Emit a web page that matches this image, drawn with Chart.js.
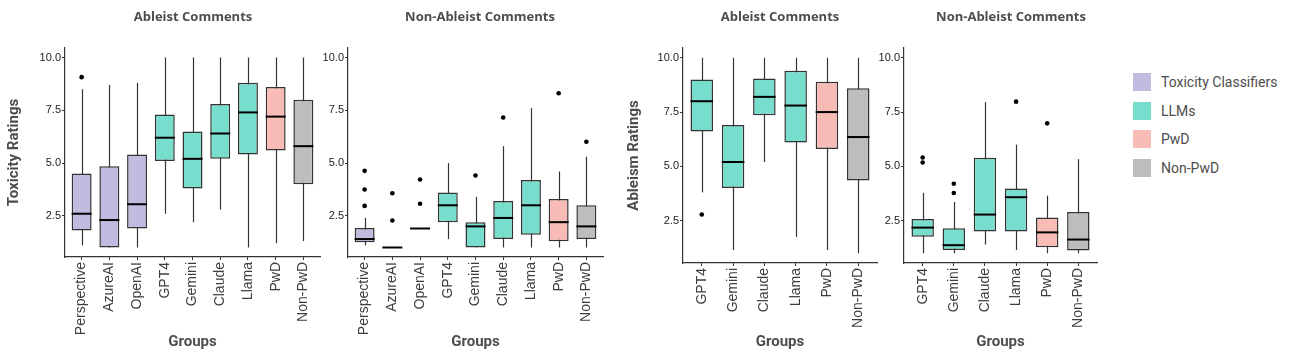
<!DOCTYPE html>
<html>
<head>
<meta charset="utf-8">
<script src="https://cdn.jsdelivr.net/npm/chart.js@4.4.1/dist/chart.umd.min.js"></script>
<style>
  body { margin: 0; background: #fff; width: 1289px; height: 361px; position: relative; overflow: hidden; }
  canvas { position: absolute; top: 0; }
  .ptitle { position: absolute; top: 7px; line-height: 17px; font: bold 13px "Open Sans", sans-serif; color: #4d4d4d;
            transform: translateX(-50%); white-space: nowrap; }
  .legend { position: absolute; left: 1133px; top: 68px; font: 14px Roboto, sans-serif; color: #4d4d4d; }
  .legend div { display: flex; align-items: center; height: 28.5px; }
  .legend span { display: inline-block; width: 18px; height: 18px; margin-right: 10px; }
</style>
</head>
<body>
<canvas id="p1" width="324" height="361" style="left:0px"></canvas>
<canvas id="p2" width="285" height="361" style="left:322px"></canvas>
<canvas id="p3" width="261" height="361" style="left:620px"></canvas>
<canvas id="p4" width="225" height="361" style="left:876px"></canvas>

<div class="ptitle" style="left:193px">Ableist Comments</div>
<div class="ptitle" style="left:480px">Non-Ableist Comments</div>
<div class="ptitle" style="left:780px">Ableist Comments</div>
<div class="ptitle" style="left:1011px">Non-Ableist Comments</div>

<div class="legend" id="legend"></div>

<script>
// groups and their kind (for fill colour)
const allGroups = ['Perspective', 'AzureAI', 'OpenAI', 'GPT4', 'Gemini', 'Claude', 'Llama', 'PwD', 'Non-PwD'];
const allKinds  = ['tox', 'tox', 'tox', 'llm', 'llm', 'llm', 'llm', 'pwd', 'non'];
const llmGroups = ['GPT4', 'Gemini', 'Claude', 'Llama', 'PwD', 'Non-PwD'];
const llmKinds  = ['llm', 'llm', 'llm', 'llm', 'pwd', 'non'];

const legendLabels = ['Toxicity Classifiers', 'LLMs', 'PwD', 'Non-PwD'];
const legendKinds  = ['tox', 'llm', 'pwd', 'non'];
const kindColors = { tox: '#bfbce0', llm: '#77ddcc', pwd: '#f8bbb5', non: '#bdbdbd' };

const yTicks = [2.5, 5.0, 7.5, 10.0];

// Toxicity ratings, ableist comments
const toxAblLow  = [1.1, 1.0, 1.0, 2.6, 2.2, 2.8, 1.0, 1.2, 1.3];
const toxAblQ1   = [1.8, 1.0, 1.9, 5.1, 3.8, 5.2, 5.4, 5.6, 4.0];
const toxAblMed  = [2.6, 2.3, 3.05, 6.2, 5.2, 6.4, 7.4, 7.2, 5.8];
const toxAblQ3   = [4.5, 4.85, 5.4, 7.3, 6.5, 7.8, 8.8, 8.6, 8.0];
const toxAblHigh = [8.5, 8.7, 8.8, 10, 10, 10, 10, 10, 10];
const toxAblOut  = [[0, 9.07]];

// Toxicity ratings, non-ableist comments
const toxNonLow  = [1.1, 1.0, 1.9, 1.4, 1.0, 1.0, 1.0, 1.0, 1.0];
const toxNonQ1   = [1.25, 1.0, 1.9, 2.2, 1.0, 1.4, 1.6, 1.3, 1.4];
const toxNonMed  = [1.4, 1.0, 1.9, 3.0, 2.0, 2.4, 3.0, 2.2, 2.0];
const toxNonQ3   = [1.92, 1.0, 1.9, 3.6, 2.2, 3.2, 4.2, 3.3, 3.0];
const toxNonHigh = [2.4, 1.0, 1.9, 5.0, 3.4, 5.8, 7.6, 4.6, 5.3];
const toxNonOut  = [[0, 4.63], [0, 3.75], [0, 2.97], [1, 3.57], [1, 2.28], [2, 4.22], [2, 3.07],
                    [4, 4.41], [5, 7.16], [7, 8.31], [8, 6.01]];

// Ableism ratings, ableist comments
const ablAblLow  = [3.8, 1.15, 5.2, 1.75, 1.15, 1.0];
const ablAblQ1   = [6.6, 4.0, 7.35, 6.1, 5.8, 4.35];
const ablAblMed  = [8.0, 5.2, 8.2, 7.8, 7.5, 6.35];
const ablAblQ3   = [9.0, 6.9, 9.05, 9.4, 8.9, 8.6];
const ablAblHigh = [10, 10, 10, 10, 10, 10];
const ablAblOut  = [[0, 2.78]];

// Ableism ratings, non-ableist comments
const ablNonLow  = [1.0, 1.0, 1.4, 1.15, 1.0, 1.0];
const ablNonQ1   = [1.76, 1.15, 2.0, 2.0, 1.27, 1.12];
const ablNonMed  = [2.18, 1.37, 2.78, 3.58, 1.96, 1.63];
const ablNonQ3   = [2.58, 2.15, 5.4, 3.98, 2.64, 2.9];
const ablNonHigh = [3.78, 3.36, 7.96, 6.0, 3.65, 5.33];
const ablNonOut  = [[0, 5.41], [0, 5.18], [1, 4.2], [1, 3.77], [3, 7.98], [4, 6.98]];

const tickFont  = { family: 'Liberation Sans, Arial', size: 11 };
const labelFont = { family: 'Liberation Sans, Arial', size: 14 };
const titleFont = { family: 'Roboto', size: 15, weight: 'bold' };

function makePanel(id, cats, kinds, low, q1, med, q3, high, outs, yTitle, yWidth, xHeight) {
  const boxes = {
    id: 'boxes_' + id,
    beforeDatasetsDraw(chart) {
      const ys = chart.scales.y, ctx = chart.ctx;
      const bars = chart.getDatasetMeta(0).data;
      ctx.save();
      ctx.strokeStyle = '#333';
      ctx.lineWidth = 1.2;
      bars.forEach((b, i) => {
        const x = Math.round(b.x) + 0.5;
        ctx.beginPath();
        ctx.moveTo(x, ys.getPixelForValue(high[i]));
        ctx.lineTo(x, ys.getPixelForValue(low[i]));
        ctx.stroke();
      });
      ctx.restore();
    },
    afterDatasetsDraw(chart) {
      const ys = chart.scales.y, ctx = chart.ctx;
      const bars = chart.getDatasetMeta(0).data;
      ctx.save();
      ctx.strokeStyle = '#000';
      ctx.lineWidth = 2;
      bars.forEach((b, i) => {
        const y = ys.getPixelForValue(med[i]);
        ctx.beginPath();
        ctx.moveTo(b.x - b.width / 2, y);
        ctx.lineTo(b.x + b.width / 2, y);
        ctx.stroke();
      });
      ctx.restore();
    }
  };

  return new Chart(document.getElementById(id), {
    type: 'bar',
    data: {
      datasets: [{
        data: cats.map((c, i) => ({ x: i, y: [q1[i], q3[i]] })),
        backgroundColor: kinds.map(k => kindColors[k]),
        borderColor: '#333',
        borderWidth: 1.5,
        borderSkipped: false,
        barPercentage: 0.72,
        categoryPercentage: 1
      }, {
        type: 'scatter',
        data: outs.map(o => ({ x: o[0], y: o[1] })),
        pointRadius: 2.3,
        pointBackgroundColor: '#000',
        pointBorderWidth: 0
      }]
    },
    options: {
      responsive: false,
      animation: false,
      layout: { padding: { top: 48, right: 4, left: 0, bottom: 0 } },
      plugins: { legend: { display: false }, tooltip: { enabled: false } },
      scales: {
        x: {
          type: 'linear',
          offset: false,
          min: -0.6,
          max: cats.length - 0.4,
          afterBuildTicks: s => { s.ticks = cats.map((c, i) => ({ value: i })); },
          afterFit: s => { s.height = xHeight; },
          ticks: {
            callback: v => cats[v],
            autoSkip: false,
            minRotation: 90,
            maxRotation: 90,
            padding: 2,
            font: labelFont,
            color: '#3d3d3d'
          },
          grid: { offset: false, drawOnChartArea: false, tickLength: 3, color: '#333' },
          border: { color: '#333', width: 1.2 },
          title: { display: true, text: 'Groups', font: titleFont, color: '#4d4d4d', padding: { top: 0, bottom: 10 } }
        },
        y: {
          min: 0.55,
          max: 10.45,
          afterBuildTicks: s => { s.ticks = yTicks.map(v => ({ value: v })); },
          afterFit: s => { s.width = yWidth; },
          ticks: { callback: v => v.toFixed(1), font: tickFont, color: '#222', padding: 1 },
          grid: { drawOnChartArea: false, tickLength: 3, color: '#333' },
          border: { color: '#333', width: 1.2 },
          title: { display: !!yTitle, text: yTitle, font: titleFont, color: '#4d4d4d', padding: { top: 5, bottom: 0 } }
        }
      }
    },
    plugins: [boxes]
  });
}

makePanel('p1', allGroups, allKinds, toxAblLow, toxAblQ1, toxAblMed, toxAblQ3, toxAblHigh, toxAblOut, 'Toxicity Ratings', 65, 104);
makePanel('p2', allGroups, allKinds, toxNonLow, toxNonQ1, toxNonMed, toxNonQ3, toxNonHigh, toxNonOut, '', 26, 104);
makePanel('p3', llmGroups, llmKinds, ablAblLow, ablAblQ1, ablAblMed, ablAblQ3, ablAblHigh, ablAblOut, 'Ableism Ratings', 63, 98);
makePanel('p4', llmGroups, llmKinds, ablNonLow, ablNonQ1, ablNonMed, ablNonQ3, ablNonHigh, ablNonOut, '', 28, 98);

// legend as real text
const legend = document.getElementById('legend');
legendLabels.forEach((t, i) => {
  const row = document.createElement('div');
  const sw = document.createElement('span');
  sw.style.background = kindColors[legendKinds[i]];
  row.appendChild(sw);
  row.appendChild(document.createTextNode(t));
  legend.appendChild(row);
});
</script>
</body>
</html>
